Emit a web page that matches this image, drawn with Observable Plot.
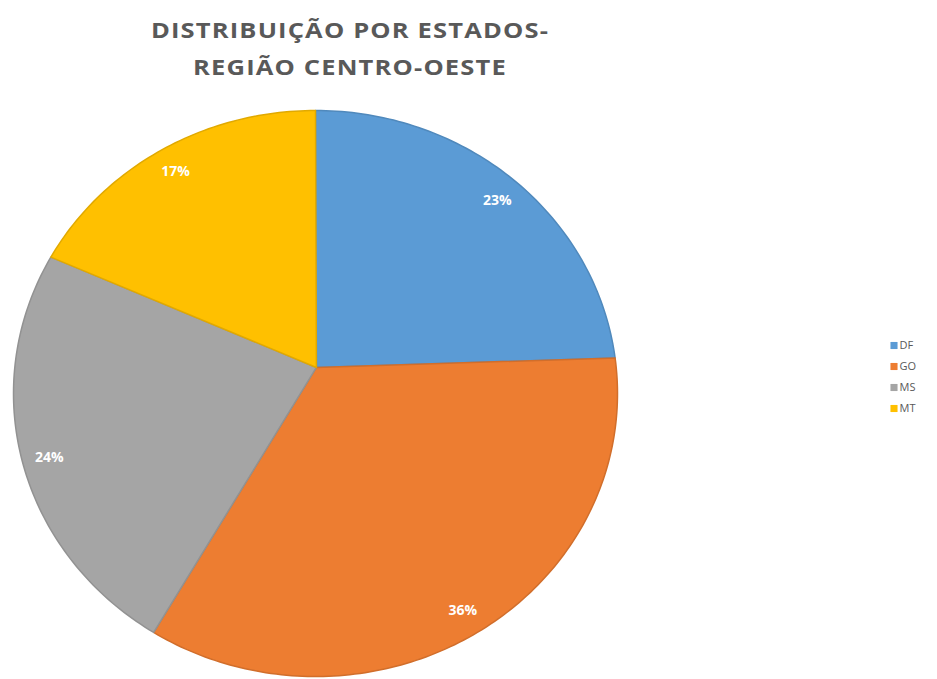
<!DOCTYPE html>
<html><head><meta charset="utf-8">
<script src="https://cdn.jsdelivr.net/npm/d3@7"></script>
<script src="https://cdn.jsdelivr.net/npm/@observablehq/plot@0.6"></script>
<style>
body{margin:0;background:#fff;width:937px;height:679px;overflow:hidden;position:relative;font-family:"Open Sans",sans-serif}
#chart{position:absolute;left:0;top:0}
#title{position:absolute;left:0;width:700px;top:11px;text-align:center;color:#595959;font-weight:700;font-size:22px;line-height:37px;letter-spacing:1px;transform:scaleX(1.16);transform-origin:350px 0}
#legend{position:absolute;left:884px;top:333px}
</style></head><body>
<div id="chart"></div>
<div id="title">DISTRIBUIÇÃO POR ESTADOS-<br>REGIÃO CENTRO-OESTE</div>
<div id="legend"></div>
<script>
const states = ["DF", "GO", "MS", "MT"];
const shares = [23, 36, 24, 17];
const colors = ["#5B9BD5", "#ED7D31", "#A5A5A5", "#FFC000"];

// slice geometry derived from the shares (clockwise from 12 o'clock)
const total = d3.sum(shares);
const apex = {x: 0.003, y: 0.092}; // perspective offset of the pie's tip
let acc = 0;
const slices = states.map((s, i) => {
  const a0 = acc / total * 2 * Math.PI;
  acc += shares[i];
  const a1 = acc / total * 2 * Math.PI;
  return {state: s, share: shares[i], a0, a1, mid: (a0 + a1) / 2};
});
const pts = [];
for (const sl of slices) {
  pts.push({state: sl.state, x: apex.x, y: apex.y});
  const n = Math.ceil((sl.a1 - sl.a0) / (Math.PI / 180));
  for (let k = 0; k <= n; k++) {
    const a = sl.a0 + (sl.a1 - sl.a0) * k / n;
    pts.push({state: sl.state, x: Math.sin(a), y: Math.cos(a)});
  }
  pts.push({state: sl.state, x: apex.x, y: apex.y});
}
const labelR = 0.91;

const chart = Plot.plot({
  width: 937, height: 679, margin: 0,
  x: {domain: [-1, 1], range: [13, 617], axis: null},
  y: {domain: [-1, 1], range: [676, 110], axis: null},
  color: {domain: states, range: colors},
  marks: [
    ...slices.map((sl, i) => Plot.line(pts.filter(p => p.state === sl.state), {
      x: "x", y: "y", fill: "state",
      stroke: d3.color(colors[i]).darker(0.35).formatHex(), strokeWidth: 1.5,
      strokeLinejoin: "round"
    })),
    Plot.text(slices, {
      x: d => labelR * Math.sin(d.mid), y: d => labelR * Math.cos(d.mid),
      text: d => d.share + "%", fill: "white", fontWeight: 700, fontSize: 14,
      fontFamily: "Open Sans"
    })
  ]
});
document.getElementById("chart").append(chart);

const legend = Plot.plot({
  width: 53, height: 90, margin: 0,
  x: {axis: null}, y: {domain: states, range: [11.5, 76], padding: 0, axis: null},
  color: {domain: states, range: colors},
  marks: [
    Plot.dot(states, {y: d => d, fill: d => d, symbol: "square", r: 4, frameAnchor: "left", dx: 9.5}),
    Plot.text(states, {y: d => d, text: d => d, frameAnchor: "left", dx: 15, textAnchor: "start",
      fill: "#595959", fontSize: 11, fontFamily: "Open Sans"})
  ]
});
document.getElementById("legend").append(legend);
</script>
</body></html>
